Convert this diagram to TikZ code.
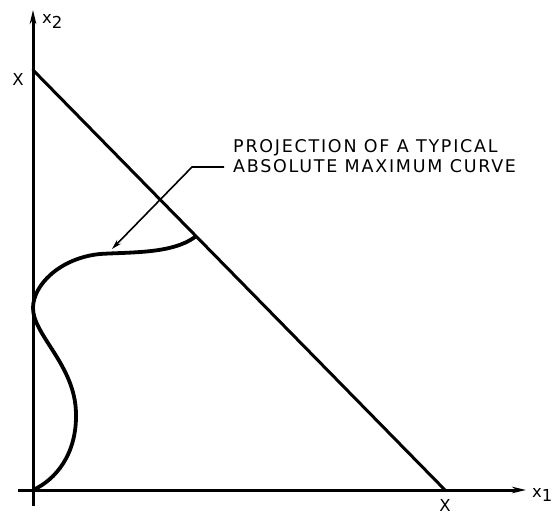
\documentclass[tikz,border=0pt]{standalone}
\usepackage{fontspec}
\setmainfont{DejaVu Sans}
\newfontfamily\notefont[LetterSpace=10]{DejaVu Sans}
\usetikzlibrary{arrows.meta}
\tikzset{
  axisline/.style={line width=3pt, -{Stealth[length=14pt,width=6.5pt]}},
  edgeline/.style={line width=3pt},
  curveline/.style={line width=3.8pt},
  leader/.style={line width=1.6pt, -{Stealth[length=10pt,width=5.5pt]}},
  lbl/.style={font=\fontsize{16.5}{16.5}\selectfont, inner sep=0pt},
  note/.style={font=\notefont\fontsize{17.5}{20.5}\selectfont, inner sep=0pt, align=left, anchor=base west}
}
\begin{document}
\begin{tikzpicture}[x=1pt,y=-1pt]
\useasboundingbox (0,0) rectangle (552,516);
\coordinate (O) at (33,490);
\coordinate (ybot) at (33,506);
\coordinate (ytop) at (33,10);
\coordinate (xleft) at (18,490);
\coordinate (xend) at (526,490);
\coordinate (A) at (33,70);
\coordinate (B) at (445,490);
\coordinate (C) at (195,237);
\coordinate (T) at (33,308);
\coordinate (M) at (76,413);
\coordinate (knee) at (192,167);
\coordinate (tip) at (112,249);
\coordinate (lend) at (224,167);
% axes
\draw[axisline] (ybot) -- (ytop);
\draw[axisline] (xleft) -- (xend);
% diagonal
\draw[edgeline, line cap=round] (A) -- (B);
% curve
\draw[curveline] (C) .. controls (172,254) and (130,252) .. (100,254)
  .. controls (60,258) and (33,285) .. (T)
  .. controls (33,335) and (75,365) .. (M)
  .. controls (77,455) and (55,480) .. (O);
% leader
\draw[leader] (lend) -- (knee) -- (tip);
% labels
\node[lbl] (xa) at (18,79) {X};
\node[lbl] (xb) at (445,505) {X};
\node[lbl, anchor=base west] (x2) at (42,24) {x\raisebox{-0.45ex}{2}};
\node[lbl, anchor=base west] (x1) at (532,497) {x\raisebox{-0.45ex}{1}};
\node[note] (txt) at (233,173) {PROJECTION OF A TYPICAL\\ABSOLUTE MAXIMUM CURVE};
\end{tikzpicture}
\end{document}
